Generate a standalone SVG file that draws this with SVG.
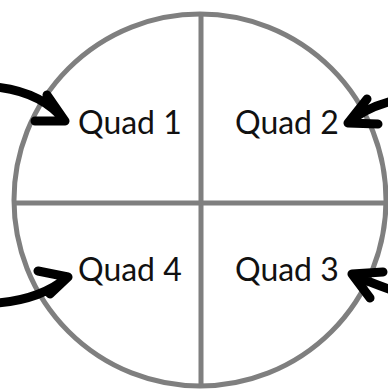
<svg xmlns="http://www.w3.org/2000/svg" width="388" height="390" viewBox="0 0 388 390">
<style>
.frame{fill:none;stroke:#7f7f7f;stroke-width:5}
.lbl{font-family:Lato,"Liberation Sans",sans-serif;font-size:32px;fill:#111}
.arr{fill:none;stroke:#000;stroke-width:9;stroke-linecap:round;stroke-linejoin:round}
</style>
<rect width="388" height="390" fill="#fff"/>
<g id="circle">
<circle class="frame" cx="200" cy="200" r="186"/>
<line class="frame" x1="201" y1="14" x2="201" y2="386"/>
<line class="frame" x1="14" y1="203" x2="386" y2="203"/>
</g>
<g id="quad1"><text class="lbl" x="78" y="134">Quad 1</text></g>
<g id="quad2"><text class="lbl" x="235" y="134">Quad 2</text></g>
<g id="quad4"><text class="lbl" x="78" y="281">Quad 4</text></g>
<g id="quad3"><text class="lbl" x="235" y="281">Quad 3</text></g>
<g id="connectors">
<path class="arr" d="M-4,87 Q42,92 65,121 M47,95 L65,121 L35,121"/>
<path class="arr" d="M392,101 Q365,108 348,123 M367,99 L348,123 L378,124"/>
<path class="arr" d="M-4,303 Q40,300 68,277 M38,271 L68,277 L50,294"/>
<path class="arr" d="M392,290 Q368,282 352,274 M383,272 L352,274 L370,298"/>
</g>
</svg>
